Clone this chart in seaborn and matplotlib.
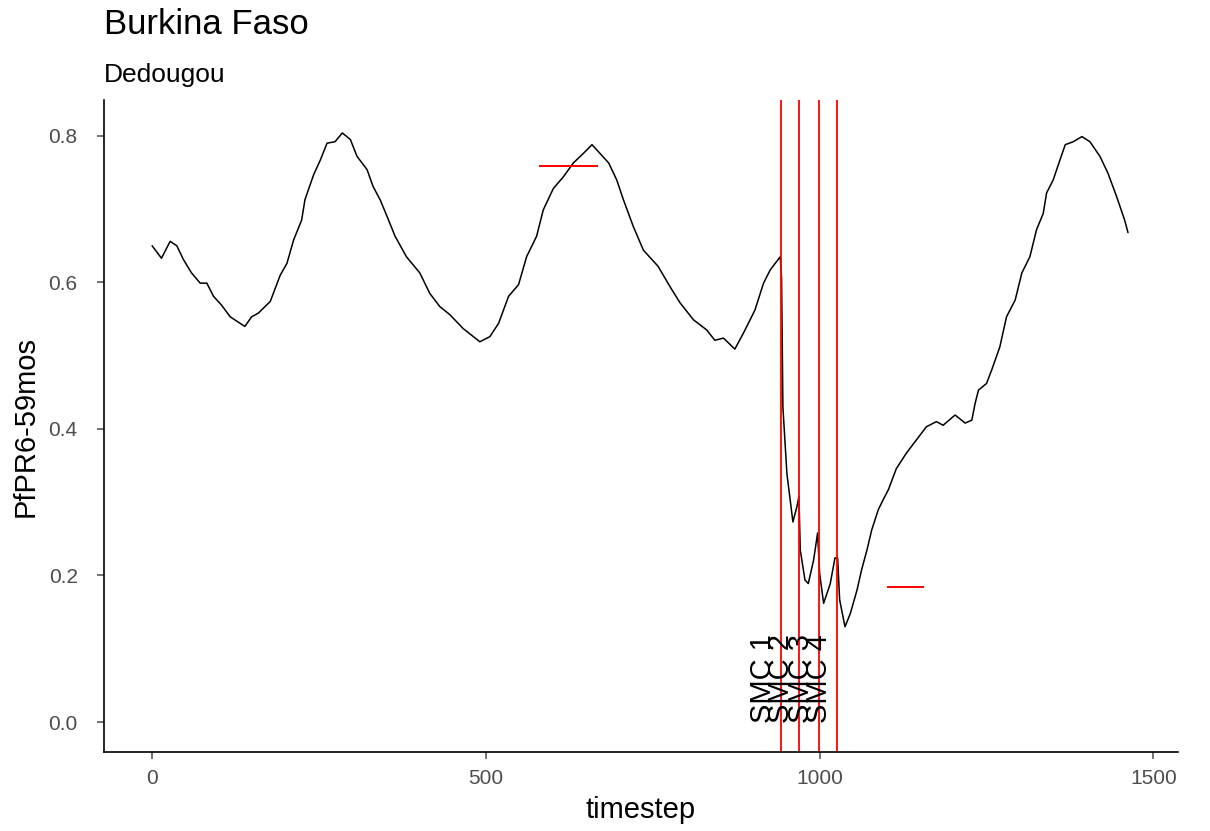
import numpy as np
import pandas as pd
import matplotlib
matplotlib.use("Agg")
import matplotlib.pyplot as plt
import seaborn as sns

# Simulated prevalence
timestep = [0, 14, 27, 37, 47, 59, 72, 82, 92, 104, 117, 132, 139, 149, 159, 177,
            192, 202, 212, 224, 229, 242, 252, 262, 274, 285, 297, 307, 322, 331,
            342, 352, 364, 381, 401, 416, 431, 446, 466, 491, 506, 519, 534, 549,
            561, 576, 586, 601, 616, 631, 646, 659, 671, 684, 696, 706, 721, 736,
            758, 776, 791, 811, 831, 843, 856, 873, 886, 903, 916, 926, 941, 943,
            945, 951, 956, 960, 966, 969, 971, 978, 983, 991, 997, 1000, 1006,
            1016, 1023, 1027, 1030, 1038, 1046, 1056, 1063, 1071, 1078, 1088,
            1095, 1103, 1115, 1130, 1145, 1160, 1175, 1185, 1203, 1218, 1228,
            1233, 1238, 1250, 1258, 1270, 1280, 1293, 1303, 1315, 1325, 1335,
            1340, 1350, 1360, 1368, 1380, 1393, 1405, 1420, 1432, 1445, 1457, 1462]
prevalence = [0.650, 0.633, 0.656, 0.650, 0.631, 0.613, 0.599, 0.599, 0.581, 0.569,
              0.553, 0.544, 0.540, 0.553, 0.558, 0.574, 0.610, 0.626, 0.658, 0.685,
              0.713, 0.747, 0.767, 0.790, 0.792, 0.804, 0.795, 0.772, 0.754, 0.731,
              0.712, 0.690, 0.663, 0.635, 0.613, 0.585, 0.567, 0.556, 0.537, 0.519,
              0.526, 0.544, 0.581, 0.597, 0.635, 0.663, 0.699, 0.728, 0.744, 0.763,
              0.776, 0.788, 0.776, 0.763, 0.740, 0.713, 0.676, 0.644, 0.622, 0.594,
              0.572, 0.549, 0.535, 0.521, 0.524, 0.509, 0.531, 0.562, 0.599, 0.617,
              0.635, 0.606, 0.430, 0.339, 0.303, 0.273, 0.294, 0.308, 0.235, 0.194,
              0.189, 0.221, 0.258, 0.203, 0.162, 0.189, 0.224, 0.224, 0.167, 0.130,
              0.148, 0.180, 0.208, 0.235, 0.262, 0.290, 0.303, 0.317, 0.346, 0.367,
              0.385, 0.403, 0.410, 0.405, 0.419, 0.408, 0.412, 0.435, 0.453, 0.462,
              0.481, 0.512, 0.553, 0.576, 0.613, 0.635, 0.672, 0.694, 0.722, 0.740,
              0.767, 0.788, 0.792, 0.799, 0.792, 0.772, 0.749, 0.717, 0.685, 0.668]

# SMC rounds
smc_days = [942, 969, 999, 1026]
smc_labels = ["SMC 1", "SMC 2", "SMC 3", "SMC 4"]

# target prevalence segments
target_level = [0.759, 0.184]
target_start = [580, 1101]
target_end = [668, 1156]

df = pd.DataFrame({"timestep": timestep, "prev": prevalence})

sns.set_theme(style="ticks")
plt.rcParams["font.family"] = ["Liberation Sans", "DejaVu Sans"]

fig, ax = plt.subplots(figsize=(12.1, 8.31), dpi=100)
fig.subplots_adjust(left=0.086, right=0.9736, bottom=0.095, top=0.8797)

sns.lineplot(data=df, x="timestep", y="prev", color="black", linewidth=1.1, ax=ax)

for d, lab in zip(smc_days, smc_labels):
    ax.axvline(d, color="red", linewidth=1.3)
    ax.annotate(lab, xy=(d, 0), xytext=(-13, -1), textcoords="offset points",
                rotation=90, ha="center", va="bottom", fontsize=21, color="black")

ax.hlines(target_level, target_start, target_end, color="red", linewidth=1.4)

ax.set_xlim(-72, 1537)
ax.set_ylim(-0.041, 0.849)
ax.set_xticks([0, 500, 1000, 1500])
ax.set_yticks([0.0, 0.2, 0.4, 0.6, 0.8])
ax.set_yticklabels(["0.0", "0.2", "0.4", "0.6", "0.8"])
ax.tick_params(axis="both", labelsize=15, colors="#4D4D4D", length=5, width=1.1)
ax.tick_params(axis="y", pad=14)
ax.tick_params(axis="x", pad=7)
for s in ["left", "bottom"]:
    ax.spines[s].set_color("black")
    ax.spines[s].set_linewidth(1.2)
sns.despine(ax=ax)

ax.set_xlabel("timestep", fontsize=21, labelpad=6, color="black")
ax.set_ylabel("PfPR6-59mos", fontsize=21, labelpad=6, color="black")

fig.text(0.086, 0.970, "Burkina Faso", fontsize=25, va="center", ha="left", color="black")
fig.text(0.086, 0.910, "Dedougou", fontsize=19, va="center", ha="left", color="black")

fig.savefig("out.png", dpi=100, facecolor="white")
